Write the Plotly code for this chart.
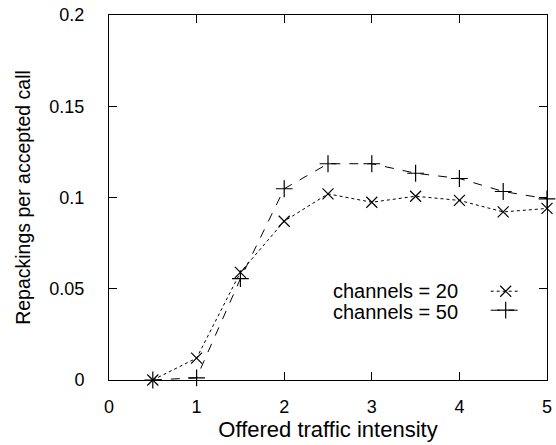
import plotly.graph_objects as go

# Offered traffic intensity (x) and repackings per accepted call for two channel counts
intensity = [0.5, 1.0, 1.5, 2.0, 2.5, 3.0, 3.5, 4.0, 4.5, 5.0]
repack_ch20 = [0.0, 0.012, 0.059, 0.087, 0.102, 0.0974, 0.1007, 0.0984, 0.0921, 0.094]
repack_ch50 = [0.0, 0.0012, 0.0555, 0.1048, 0.1185, 0.1185, 0.1133, 0.1104, 0.1033, 0.0993]

series_names = ["channels = 20", "channels = 50"]
x_ticks = [0, 1, 2, 3, 4, 5]
y_ticks = [0, 0.05, 0.1, 0.15, 0.2]
y_tick_text = ["0", "0.05", "0.1", "0.15", "0.2"]

FONT = "Liberation Sans"

fig = go.Figure()
fig.add_trace(go.Scatter(
    x=intensity, y=repack_ch20, mode="lines+markers", name=" ",
    line=dict(color="black", width=1, dash="dot"),
    marker=dict(symbol="x-thin", size=11, line=dict(color="black", width=1.2)),
    cliponaxis=False,
))
fig.add_trace(go.Scatter(
    x=intensity, y=repack_ch50, mode="lines+markers", name=" ",
    line=dict(color="black", width=1, dash="dash"),
    marker=dict(symbol="cross-thin", size=12, line=dict(color="black", width=1.2)),
    cliponaxis=False,
))

# Legend labels sit to the left of the line samples
for i, label in enumerate(series_names):
    fig.add_annotation(
        x=0.799, y=0.243 - i * 0.058, xref="paper", yref="paper",
        text=label, showarrow=False, xanchor="right", yanchor="middle",
        font=dict(family=FONT, size=20, color="black"), borderpad=0,
    )

axis_common = dict(
    showline=True, linecolor="black", linewidth=1, mirror="ticks",
    ticks="inside", ticklen=8, tickcolor="black", tickwidth=1,
    showgrid=False, zeroline=False,
    tickfont=dict(family=FONT, size=18, color="black"),
    ticklabeloverflow="allow",
)

fig.update_layout(
    width=556, height=445,
    margin=dict(l=109, r=4, t=15, b=65),
    paper_bgcolor="white", plot_bgcolor="white",
    font=dict(family=FONT, color="black"),
    showlegend=True,
    legend=dict(
        x=0.86, y=0.283, xanchor="left", yanchor="top",
        bgcolor="rgba(0,0,0,0)", borderwidth=0,
        font=dict(family=FONT, size=12), tracegroupgap=0,
        itemwidth=30,
    ),
    xaxis=dict(
        range=[0, 5], tickvals=x_ticks,
        ticklabelstandoff=10,
        title=dict(text="Offered traffic intensity", font=dict(family=FONT, size=22), standoff=2),
        **axis_common,
    ),
    yaxis=dict(
        range=[0, 0.2], tickvals=y_ticks, ticktext=y_tick_text,
        ticklabelstandoff=20,
        title=dict(text="Repackings per accepted call", font=dict(family=FONT, size=19.5), standoff=13),
        **axis_common,
    ),
)

fig.write_html("out.html")
